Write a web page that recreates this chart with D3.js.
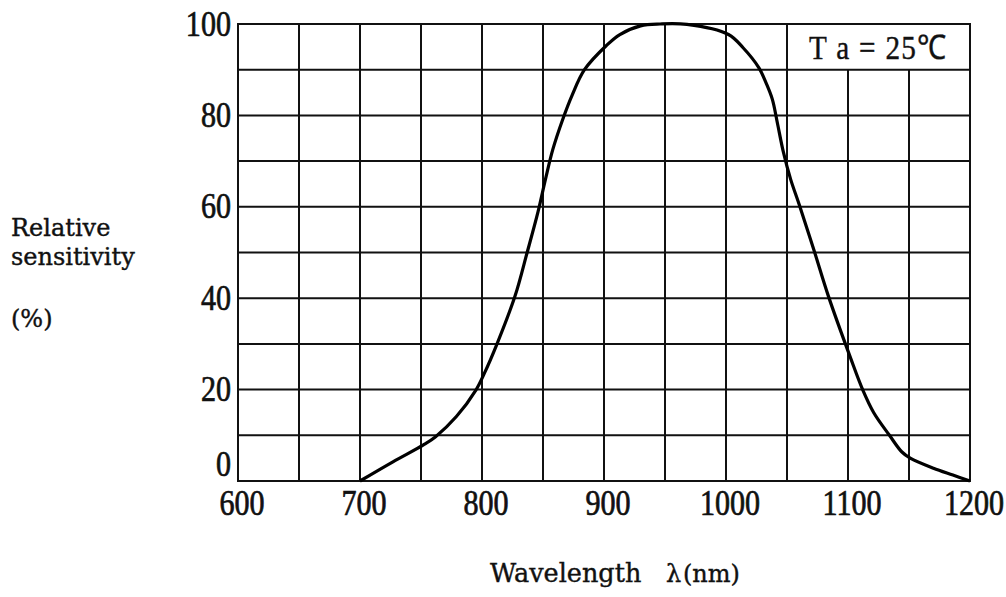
<!DOCTYPE html>
<html>
<head>
<meta charset="utf-8">
<script src="https://cdn.jsdelivr.net/npm/d3@7"></script>
<style>
  body { margin: 0; background: #fff; }
</style>
</head>
<body>
<div id="chart"></div>
<script>
// Spectral sensitivity curve
const wavelength = [700, 727, 752, 762, 779, 795, 802, 812, 827, 837, 846, 852, 858, 866, 874, 884,
  902, 913, 930, 946, 968, 1002, 1014, 1027, 1033, 1038, 1042, 1047, 1053, 1060, 1072, 1084,
  1102, 1112, 1121, 1134, 1144, 1151, 1170, 1186, 1200];
const sensitivity = [0, 4.2, 7.9, 9.7, 14.1, 19.9, 23.6, 29.8, 40.4, 50, 59, 66, 72.5, 79, 84.5, 90,
  95.3, 97.7, 99.6, 100, 99.9, 97.7, 94.8, 90.4, 87, 83.5, 78.5, 72, 66, 60.5, 50.6, 40.4,
  27, 20, 15, 10, 6.4, 5, 2.8, 1.3, 0];

const xTicks = [600, 700, 800, 900, 1000, 1100, 1200];
const yTicks = [0, 20, 40, 60, 80, 100];
const xGrid = d3.range(600, 1201, 50);
const yGrid = d3.range(0, 101, 10);
const legendText = "T a = 25\u2103";

const width = 1006, height = 597;
const plotLeft = 238, plotRight = 970, plotTop = 24, plotBottom = 481;
const tickFont = "'Liberation Serif', serif";
const titleFont = "'DejaVu Serif', serif";
const ink = "#111";

const svg = d3.select("#chart").append("svg")
  .attr("width", width)
  .attr("height", height);

const x = d3.scaleLinear().domain([600, 1200]).range([plotLeft, plotRight]);
const y = d3.scaleLinear().domain([0, 100]).range([plotBottom, plotTop]);

// condensed serif numbers, like the printed sheet
function numText(sel, px, py, anchor) {
  return sel.attr("transform", `translate(${px},${py}) scale(0.86,1)`)
    .attr("text-anchor", anchor)
    .attr("font-family", tickFont)
    .attr("font-size", 35)
    .attr("fill", ink)
    .attr("stroke", ink)
    .attr("stroke-width", 0.7);
}

// grid
const grid = svg.append("g").attr("stroke", ink).attr("stroke-width", 2);
grid.selectAll("line.v")
  .data(xGrid)
  .join("line")
  .attr("class", "v")
  .attr("x1", d => x(d)).attr("x2", d => x(d))
  .attr("y1", d => d > 1050 && d < 1200 ? y(90) : y(100))
  .attr("y2", y(0));
grid.selectAll("line.h")
  .data(yGrid)
  .join("line")
  .attr("class", "h")
  .attr("x1", x(600) - 1).attr("x2", x(1200) + 1)
  .attr("y1", d => y(d)).attr("y2", d => y(d));

// Ta label in the top-right cell
svg.append("text")
  .call(numText, (x(1050) + x(1200)) / 2, (y(90) + y(100)) / 2 + 12, "middle")
  .attr("font-size", 34)
  .attr("letter-spacing", 1.5)
  .attr("stroke-width", 0.4)
  .text(legendText);

// curve
const line = d3.line()
  .x(d => x(d[0]))
  .y(d => y(d[1]))
  .curve(d3.curveCatmullRom.alpha(0.5));

svg.append("path")
  .datum(wavelength.map((w, i) => [w, sensitivity[i]]))
  .attr("fill", "none")
  .attr("stroke", "#000")
  .attr("stroke-width", 3.2)
  .attr("stroke-linejoin", "round")
  .attr("d", line);

// tick labels
svg.append("g")
  .selectAll("text")
  .data(yTicks)
  .join("text")
  .each(function (d) {
    d3.select(this).call(numText, plotLeft - 7, d === 0 ? y(d) - 5 : y(d) + 11.5, "end");
  })
  .text(d => d);

svg.append("g")
  .selectAll("text")
  .data(xTicks)
  .join("text")
  .each(function (d) {
    d3.select(this).call(numText, x(d) + 4, plotBottom + 34, "middle");
  })
  .text(d => d);

// axis titles
const yTitle = svg.append("g")
  .attr("font-family", titleFont)
  .attr("font-size", 24)
  .attr("fill", ink)
  .attr("stroke", ink)
  .attr("stroke-width", 0.4);
yTitle.append("text").attr("x", 11).attr("y", 236).text("Relative");
yTitle.append("text").attr("x", 11).attr("y", 265).text("sensitivity");
yTitle.append("text").attr("x", 11).attr("y", 327).text("(%)");

const xTitle = svg.append("g")
  .attr("font-family", titleFont)
  .attr("fill", ink)
  .attr("stroke", ink)
  .attr("stroke-width", 0.4);
xTitle.append("text")
  .attr("x", 490)
  .attr("y", 582)
  .attr("font-size", 25.5)
  .text("Wavelength");
xTitle.append("text")
  .attr("x", 666)
  .attr("y", 582)
  .attr("font-size", 24)
  .text("\u03bb");
xTitle.append("text")
  .attr("x", 683)
  .attr("y", 582)
  .attr("font-size", 24)
  .text("(nm)");
</script>
</body>
</html>
